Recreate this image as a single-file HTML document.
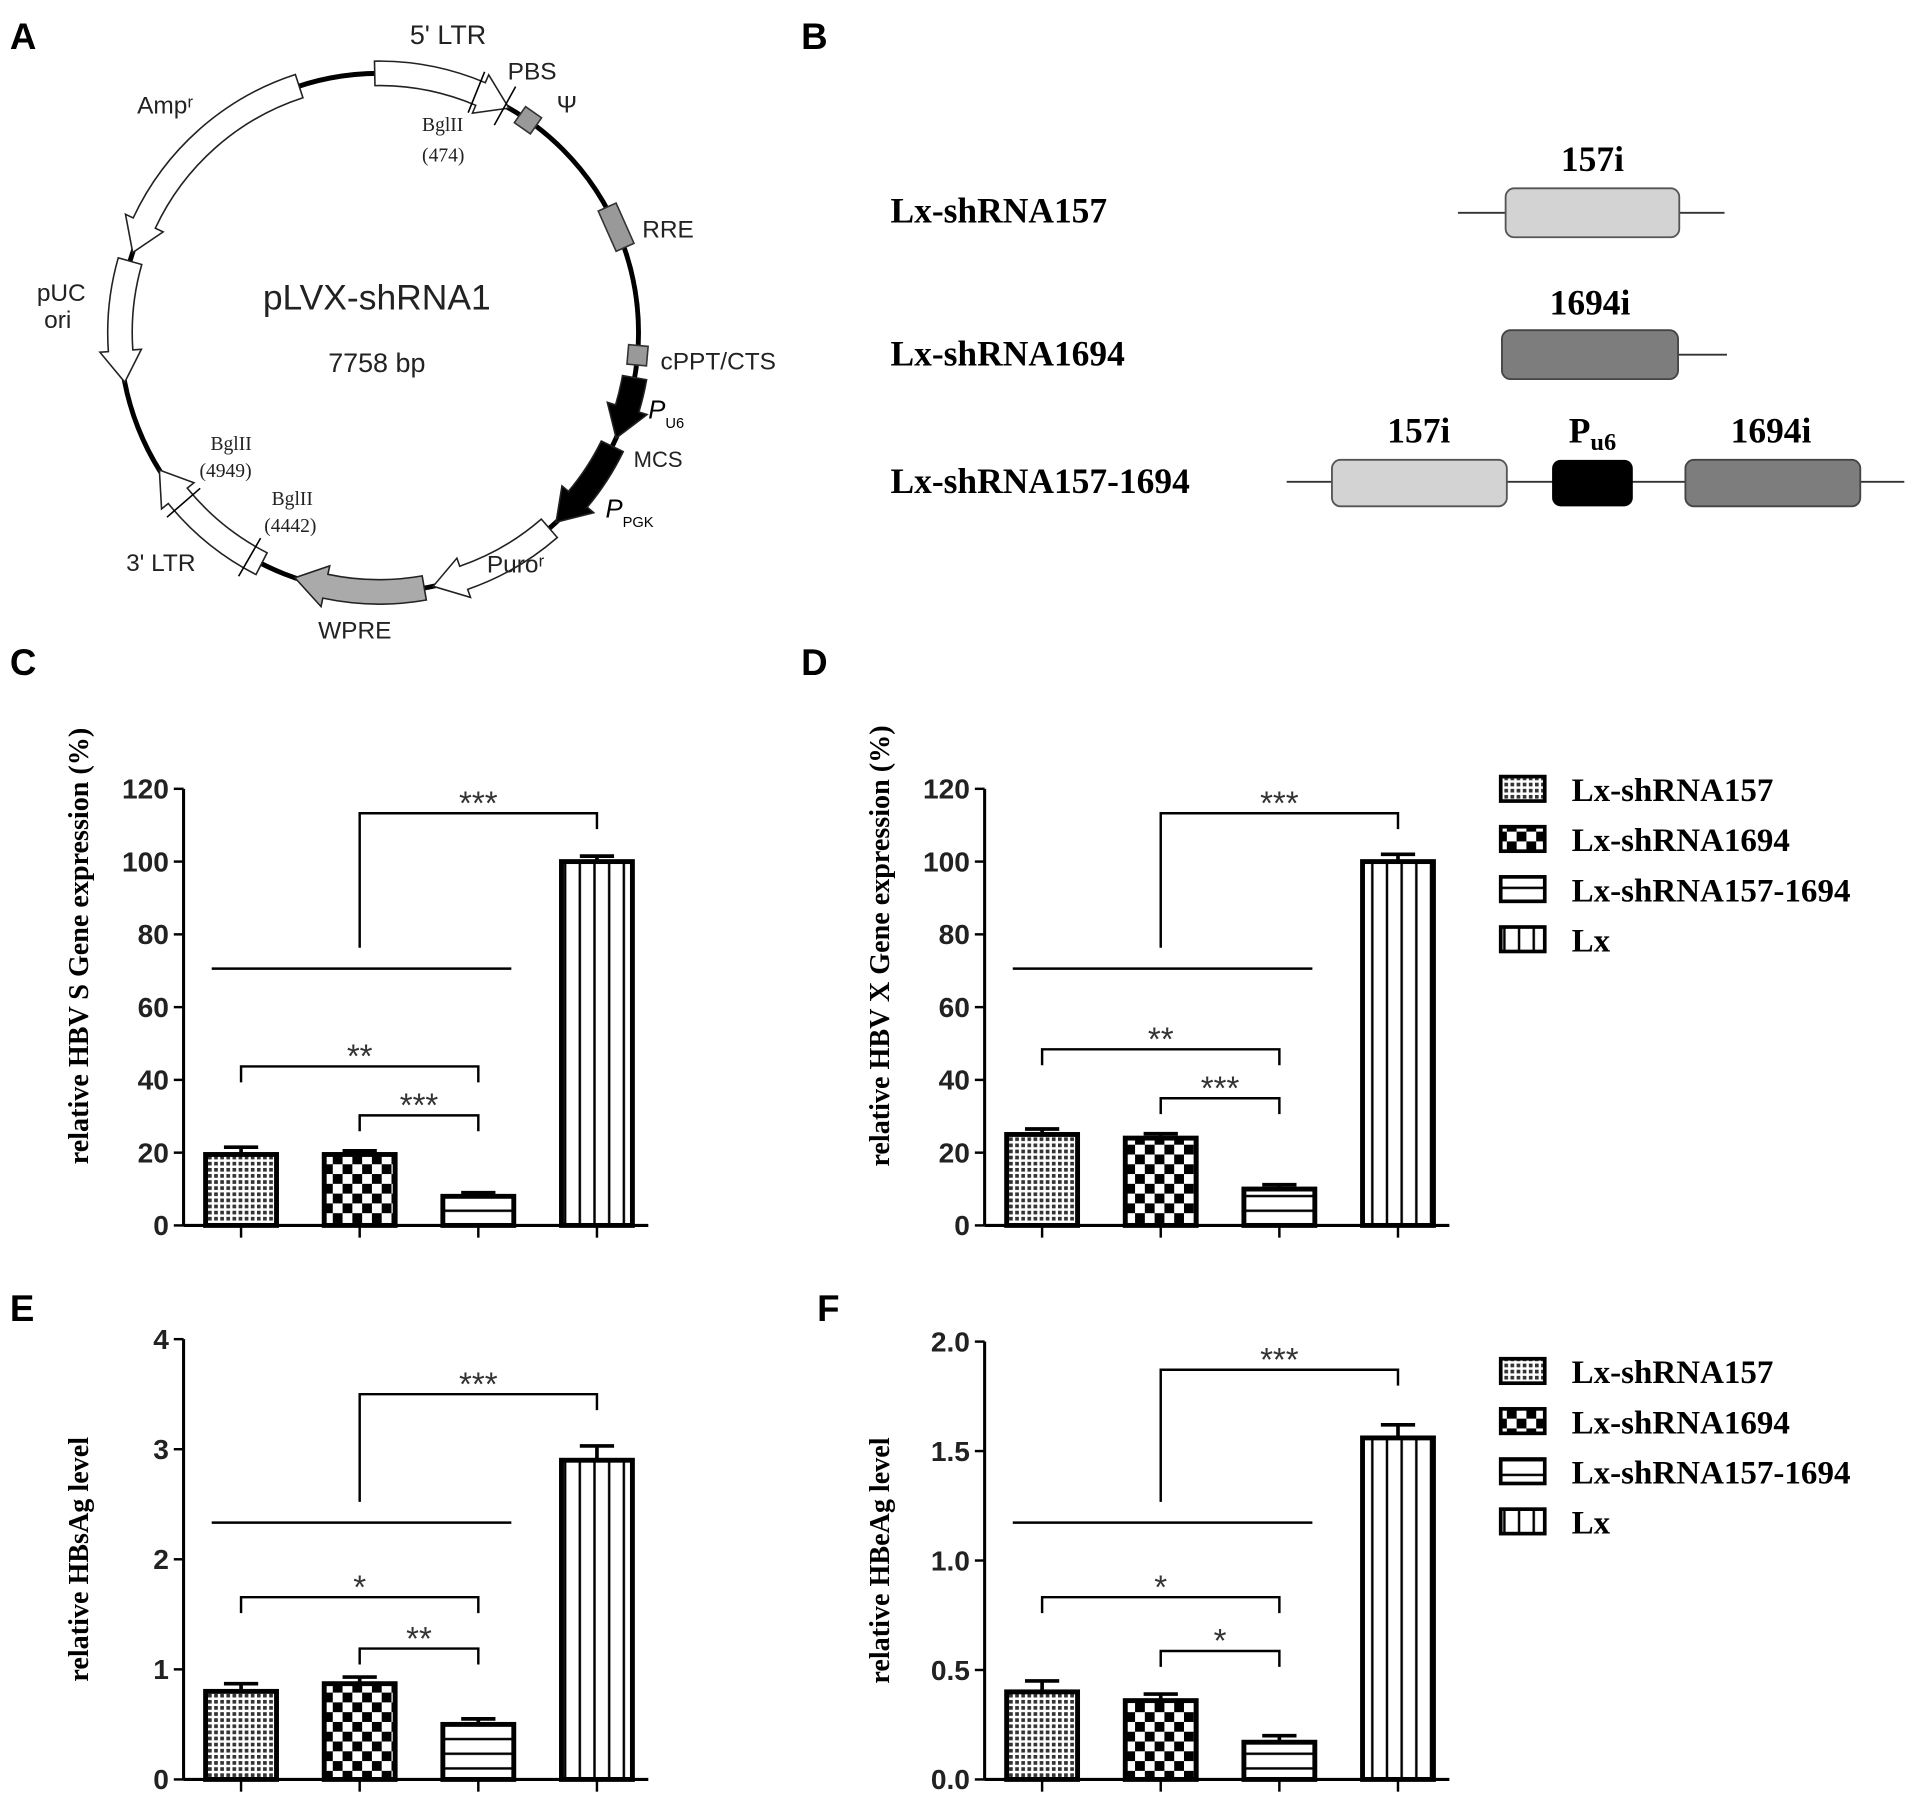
<!DOCTYPE html>
<html><head><meta charset="utf-8">
<style>
html,body{margin:0;padding:0;background:#fff;}
svg{display:block;}
.sf{font-family:"Liberation Sans",sans-serif;}
.se{font-family:"Liberation Serif",serif;font-weight:bold;}
</style></head>
<body>
<svg id="fig" width="1913" height="1799" viewBox="0 0 1564 1471" xmlns="http://www.w3.org/2000/svg">
<defs>
<pattern id="pCross" width="5" height="5" patternUnits="userSpaceOnUse"><rect width="5" height="5" fill="#fff"/><rect width="3" height="3" fill="#333"/></pattern>
<pattern id="pCheck" width="16" height="16" patternUnits="userSpaceOnUse"><rect width="16" height="16" fill="#fff"/><rect width="8" height="8" fill="#000"/><rect x="8" y="8" width="8" height="8" fill="#000"/></pattern>
<pattern id="pHor" width="10" height="12" patternUnits="userSpaceOnUse"><rect width="10" height="12" fill="#fff"/><rect y="5" width="10" height="2" fill="#000"/></pattern>
<pattern id="pVer" width="12" height="10" patternUnits="userSpaceOnUse"><rect width="12" height="10" fill="#fff"/><rect x="5" width="2" height="10" fill="#000"/></pattern>
</defs>
<g class="sf" font-size="30" font-weight="bold">
<text x="8" y="40">A</text>
<text x="655" y="40">B</text>
<text x="8" y="552">C</text>
<text x="655" y="552">D</text>
<text x="8" y="1080">E</text>
<text x="668" y="1080">F</text>
</g>
<g id="plasmid"></g>
<g id="panelB">
<g class="se" font-size="29">
<text x="728" y="182">Lx-shRNA157</text>
<text x="728" y="299">Lx-shRNA1694</text>
<text x="728" y="403">Lx-shRNA157-1694</text>
<text x="1302" y="140" text-anchor="middle">157i</text>
<text x="1300" y="257" text-anchor="middle">1694i</text>
<text x="1160" y="362" text-anchor="middle">157i</text>
<text x="1302" y="362" text-anchor="middle">P<tspan font-size="20" dy="6">u6</tspan></text>
<text x="1448" y="362" text-anchor="middle">1694i</text>
</g>
<g stroke="#333" stroke-width="1.5">
<line x1="1192" y1="174" x2="1410" y2="174"/>
<line x1="1228" y1="290" x2="1412" y2="290"/>
<line x1="1052" y1="394" x2="1557" y2="394"/>
</g>
<rect x="1231" y="154" width="142" height="40" rx="7" fill="#d3d3d3" stroke="#555" stroke-width="1.5"/>
<rect x="1228" y="270" width="144" height="40" rx="7" fill="#7d7d7d" stroke="#444" stroke-width="1.5"/>
<rect x="1089" y="376" width="143" height="38" rx="7" fill="#d3d3d3" stroke="#555" stroke-width="1.5"/>
<rect x="1269" y="376" width="66" height="38" rx="7" fill="#000"/>
<rect x="1378" y="376" width="143" height="38" rx="7" fill="#7d7d7d" stroke="#444" stroke-width="1.5"/>
</g>
<g id="charts"></g>
</svg>
<script>
// ---------- chart data ----------
const categories = ["Lx-shRNA157","Lx-shRNA1694","Lx-shRNA157-1694","Lx"];
const valuesC = [19.5, 19.5, 8, 100];
const errC = [2, 1, 1, 1.5];
const valuesD = [25, 24, 10, 100];
const errD = [1.5, 1.2, 1.2, 2];
const valuesE = [0.8, 0.87, 0.5, 2.9];
const errE = [0.07, 0.06, 0.05, 0.13];
const valuesF = [0.4, 0.36, 0.17, 1.56];
const errF = [0.05, 0.03, 0.03, 0.06];
const ticksC = [0,20,40,60,80,100,120];
const ticksE = [0,1,2,3,4];
const ticksF = ["0.0","0.5","1.0","1.5","2.0"];
const starsC = ["***","**","***"];
const starsD = ["***","**","***"];
const starsE = ["***","*","**"];
const starsF = ["***","*","*"];

const NS="http://www.w3.org/2000/svg";
function mk(tag,attrs,parent){const e=document.createElementNS(NS,tag);for(const k in attrs)e.setAttribute(k,attrs[k]);parent.appendChild(e);return e;}
const fills=["url(#pCross)","url(#pCheck)","url(#pHor)","url(#pVer)"];
const charts=document.getElementById('charts');

function chart(cfg){
  const g=mk('g',{},charts);
  
  
  const y=v=>cfg.y0-(v/cfg.max)*(cfg.y0-cfg.yTop);
  const x=i=>cfg.ax+47+i*97;
  const ya=mk('line',{x1:cfg.ax,y1:cfg.yTop,x2:cfg.ax,y2:cfg.y0,stroke:'#000','stroke-width':2.5},g);
  
  
  const xa=mk('line',{x1:cfg.ax,y1:cfg.y0,x2:cfg.ax+380,y2:cfg.y0,stroke:'#000','stroke-width':2.5},g);
  
  
  cfg.ticks.forEach(t=>{
    const v=parseFloat(t),yy=y(v);
    mk('line',{x1:cfg.ax-8,y1:yy,x2:cfg.ax,y2:yy,stroke:'#000','stroke-width':2},g);
    const tl=mk('text',{x:cfg.ax-12,y:yy+8,'text-anchor':'end','font-size':23,'font-weight':'bold',fill:'#222','font-family':'Liberation Sans, sans-serif'},g);
    tl.textContent=t;
    
    
  });
  const yt=mk('text',{transform:`translate(${cfg.ax-78},${(cfg.yTop+cfg.y0)/2+cfg.titleOff}) rotate(-90)`,'text-anchor':'middle','font-size':23,class:'se'},g);
  yt.textContent=cfg.title;
  
  
  cfg.vals.forEach((v,i)=>{
    const cx=x(i);
    mk('line',{x1:cx,y1:cfg.y0,x2:cx,y2:cfg.y0+10,stroke:'#000','stroke-width':2},g);
    const e=y(v+cfg.err[i]);
    mk('line',{x1:cx,y1:e,x2:cx,y2:y(v),stroke:'#000','stroke-width':3},g);
    mk('line',{x1:cx-14,y1:e,x2:cx+14,y2:e,stroke:'#000','stroke-width':3},g);
    const b=mk('rect',{x:cx-29,y:y(v),width:58,height:cfg.y0-y(v),fill:fills[i],stroke:'#000','stroke-width':4},g);
    
    
  });
  const L='#000',sw=2;
  const P=(d)=>mk('path',{d:d,fill:'none',stroke:L,'stroke-width':sw},g);
  const s=cfg.sig;
  P(`M${cfg.ax+23} ${s.long} H${cfg.ax+268}`);
  P(`M${x(1)} ${s.long-17} V${s.top} H${x(3)} V${s.top+13}`);
  P(`M${x(0)} ${s.b1+13} V${s.b1} H${x(2)} V${s.b1+13}`);
  P(`M${x(1)} ${s.b2+13} V${s.b2} H${x(2)} V${s.b2+13}`);
  const st=(tx,ty,t)=>{const e=mk('text',{x:tx,y:ty+4,'text-anchor':'middle','font-size':27,fill:'#333','font-family':'Liberation Sans, sans-serif'},g);e.textContent=t;};
  st((x(1)+x(3))/2,s.top-3,cfg.stars[0]);
  st((x(0)+x(2))/2,s.b1-3,cfg.stars[1]);
  st((x(1)+x(2))/2,s.b2-3,cfg.stars[2]);
}
chart({name:'chart-c',ax:150,y0:1002,yTop:645,max:120,ticks:ticksC,vals:valuesC,err:errC,title:'relative HBV S Gene expression (%)',titleOff:-50,stars:starsC,sig:{long:792,top:665,b1:872,b2:912}});
chart({name:'chart-d',ax:805,y0:1002,yTop:645,max:120,ticks:ticksC,vals:valuesD,err:errD,title:'relative HBV X Gene expression (%)',titleOff:-50,stars:starsD,sig:{long:792,top:665,b1:858,b2:898}});
chart({name:'chart-e',ax:150,y0:1455,yTop:1095,max:4,ticks:ticksE,vals:valuesE,err:errE,title:'relative HBsAg level',titleOff:0,stars:starsE,sig:{long:1245,top:1140,b1:1306,b2:1348}});
chart({name:'chart-f',ax:805,y0:1455,yTop:1097,max:2,ticks:ticksF,vals:valuesF,err:errF,title:'relative HBeAg level',titleOff:0,stars:starsF,sig:{long:1245,top:1120,b1:1306,b2:1350}});

function legend(y0){
  const g=mk('g',{},charts);
  
  
  categories.forEach((c,i)=>{
    const yy=y0+i*41;
    mk('rect',{x:1227,y:yy-10,width:36,height:20,fill:fills[i],stroke:'#000','stroke-width':3},g);
    const t=mk('text',{x:1285,y:yy+10,'font-size':27,class:'se'},g);
    t.textContent=c;
    
    
  });
}
legend(645); legend(1121);

// ---------- plasmid ----------
const pg=document.getElementById('plasmid');
const cx=310,cy=272,R=212;
function pt(a,r){const t=a*Math.PI/180;return [cx+r*Math.sin(t),cy-r*Math.cos(t)];}
mk('circle',{cx:cx,cy:cy,r:R,fill:'none',stroke:'#000','stroke-width':4},pg);
function arrow(a1,a2,fill,w){
  const dir=a2>a1?1:-1, head=7*dir, ab=a2-head;
  const ri=R-w/2, ro=R+w/2;
  const f=(a,r)=>pt(a,r).map(v=>v.toFixed(1)).join(' ');
  const large=Math.abs(ab-a1)>180?1:0, sweep=dir>0?1:0;
  const d=`M${f(a1,ro)} A${ro} ${ro} 0 ${large} ${sweep} ${f(ab,ro)} L${f(ab,ro+7)} L${f(a2,R)} L${f(ab,ri-7)} L${f(ab,ri)} A${ri} ${ri} 0 ${large} ${1-sweep} ${f(a1,ri)} Z`;
  mk('path',{d:d,fill:fill,stroke:'#222','stroke-width':1.3},pg);
}
arrow(-1,30,'#fff',20);
arrow(-18,-72,'#fff',20);
arrow(-74,-101,'#fff',20);
arrow(-153,-122,'#fff',20);
arrow(170,199,'#aaa',20);
arrow(139,168,'#fff',20);
arrow(100,114,'#000',20);
arrow(116,137,'#000',20);
function boxr(a,len){const [x,y]=pt(a,R);mk('rect',{x:-len/2,y:-8,width:len,height:16,fill:'#999',stroke:'#333','stroke-width':1.3,transform:`translate(${x},${y}) rotate(${a})`},pg);}
boxr(35,16); boxr(66,36); boxr(95,16);
function tick(a){const [x1,y1]=pt(a,R-18),[x2,y2]=pt(a,R+18);mk('line',{x1,y1,x2,y2,stroke:'#000','stroke-width':1.3},pg);}
tick(22);tick(29);tick(-131);tick(-150);
const labels=[["5' LTR",335,36,22],["PBS",415,65,20],["Ψ",455,92,20],["Ampʳ",112,93,20],["RRE",525,194,20],["pUC",30,246,20],["ori",36,268,20],["pLVX-shRNA1",308,253,29],["7758 bp",308,304,22],["cPPT/CTS",540,302,20],["MCS",518,382,18],["3' LTR",103,467,20],["Puroʳ",398,468,20],["WPRE",260,522,20]];
labels.forEach(l=>{const t=mk('text',{x:l[1],y:l[2],'font-size':l[3],'font-family':'Liberation Sans, sans-serif',fill:'#222','text-anchor':(l[0].startsWith('pLVX')||l[0]==='7758 bp')?'middle':'start'},pg);t.textContent=l[0];});
const sm=[["BglII",345,107],["(474)",345,132],["BglII",172,368],["(4949)",163,390],["BglII",222,413],["(4442)",216,435]];
sm.forEach(l=>{const t=mk('text',{x:l[1],y:l[2],'font-size':16,'font-family':'Liberation Serif, serif',fill:'#222'},pg);t.textContent=l[0];});
const pu=mk('text',{x:530,y:342,'font-size':21,'font-style':'italic','font-family':'Liberation Sans, sans-serif'},pg);pu.innerHTML='P<tspan font-size="12" font-style="normal" dy="8">U6</tspan>';
const pp=mk('text',{x:495,y:423,'font-size':21,'font-style':'italic','font-family':'Liberation Sans, sans-serif'},pg);pp.innerHTML='P<tspan font-size="12" font-style="normal" dy="8">PGK</tspan>';
</script>
</body></html>
